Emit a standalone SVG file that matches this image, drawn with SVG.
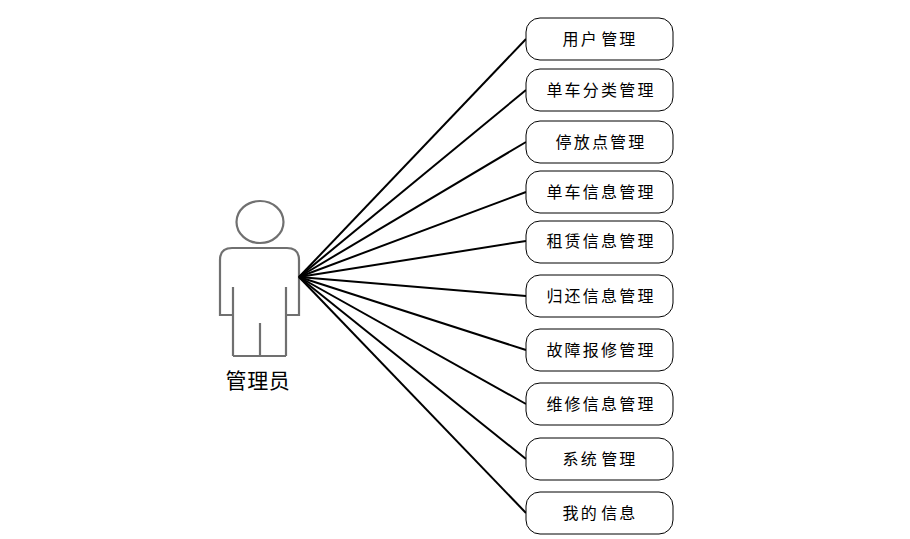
<svg xmlns="http://www.w3.org/2000/svg" width="910" height="539" viewBox="0 0 910 539">
<style>
.n rect{fill:#fff;stroke:#000;stroke-width:1}
.n text{font-family:"Noto Sans CJK SC","Liberation Sans",sans-serif;font-size:16px;fill:#000;text-anchor:middle;letter-spacing:2.2px;word-spacing:-3.5px}
#conn line{stroke:#000;stroke-width:2}
#actor path{fill:none;stroke:#707070;stroke-width:2.2}
#actor text{font-family:"Noto Sans CJK SC","Liberation Sans",sans-serif;font-size:21px;fill:#000;text-anchor:middle;letter-spacing:.6px}
</style>
<rect width="910" height="539" fill="#fff"/>
<g id="actor">
<ellipse cx="260" cy="222" rx="23.5" ry="21" fill="none" stroke="#707070" stroke-width="2.2"/>
<path d="M233 356V287M286 356V287M233 356H286M260 356V323M233 315H220V260Q220 248 232 248H287Q299 248 299 260V315H286"/>
<text x="258" y="388">管理员</text>
</g>
<g id="conn">
<line x1="299" y1="277" x2="526" y2="39"/>
<line x1="299" y1="277" x2="526" y2="90"/>
<line x1="299" y1="277" x2="526" y2="142"/>
<line x1="299" y1="277" x2="526" y2="192"/>
<line x1="299" y1="277" x2="526" y2="241"/>
<line x1="299" y1="277" x2="526" y2="296"/>
<line x1="299" y1="277" x2="526" y2="350"/>
<line x1="299" y1="277" x2="526" y2="404"/>
<line x1="299" y1="277" x2="526" y2="459"/>
<line x1="299" y1="277" x2="526" y2="513"/>
</g>
<g id="n1" class="n"><rect x="526" y="18" width="147" height="42" rx="14"/><text x="600" y="45">用户 管理</text></g>
<g id="n2" class="n"><rect x="526" y="69" width="147" height="42" rx="14"/><text x="601" y="96">单车分类管理</text></g>
<g id="n3" class="n"><rect x="526" y="121" width="147" height="42" rx="14"/><text x="601" y="148">停放点管理</text></g>
<g id="n4" class="n"><rect x="526" y="171" width="147" height="42" rx="14"/><text x="601" y="198">单车信息管理</text></g>
<g id="n5" class="n"><rect x="526" y="221" width="147" height="42" rx="14"/><text x="601" y="247">租赁信息管理</text></g>
<g id="n6" class="n"><rect x="526" y="275" width="147" height="42" rx="14"/><text x="601" y="302">归还信息管理</text></g>
<g id="n7" class="n"><rect x="526" y="329" width="147" height="42" rx="14"/><text x="601" y="356">故障报修管理</text></g>
<g id="n8" class="n"><rect x="526" y="383" width="147" height="42" rx="14"/><text x="601" y="410">维修信息管理</text></g>
<g id="n9" class="n"><rect x="526" y="438" width="147" height="42" rx="14"/><text x="600" y="465">系统 管理</text></g>
<g id="n10" class="n"><rect x="526" y="492" width="147" height="42" rx="14"/><text x="600" y="519">我的 信息</text></g>
</svg>
